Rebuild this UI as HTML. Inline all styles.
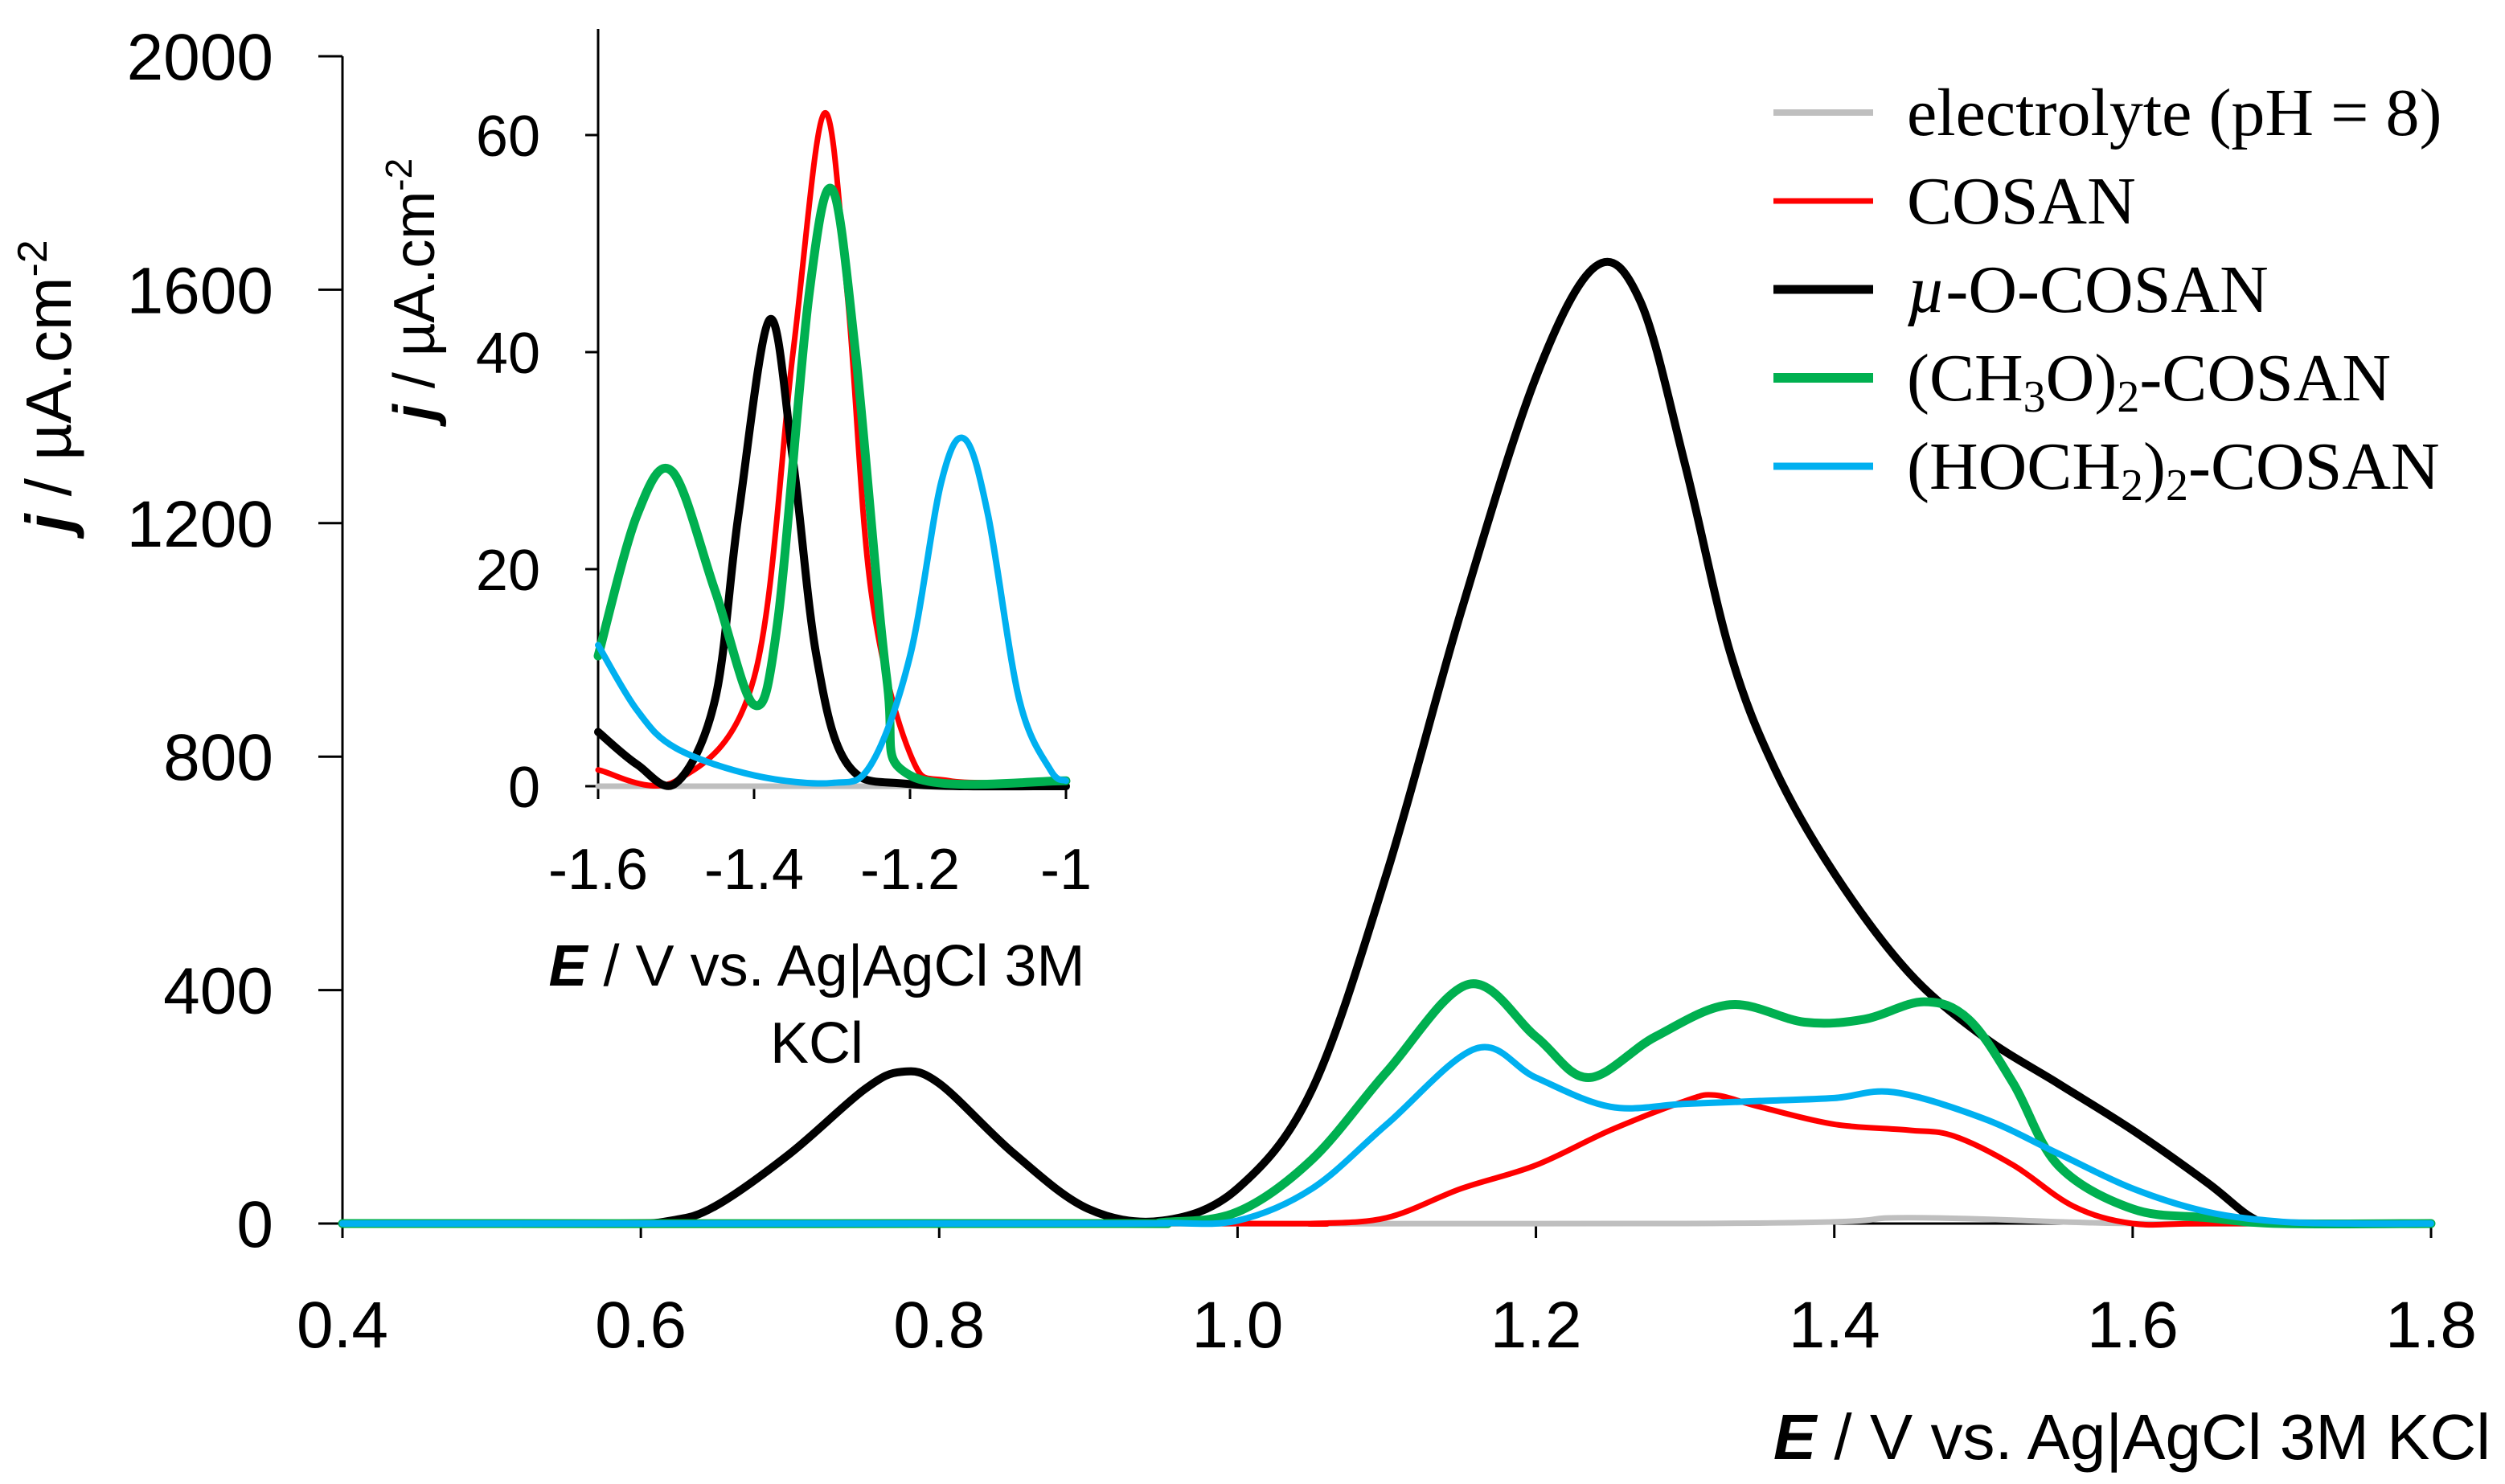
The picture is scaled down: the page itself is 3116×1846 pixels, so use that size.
<!DOCTYPE html>
<html><head><meta charset="utf-8"><style>
html,body{margin:0;padding:0;background:#fff;}
svg{display:block;}
.t{font-family:"Liberation Sans",sans-serif;fill:#000;}
.s{font-family:"Liberation Serif",serif;fill:#000;}
</style></head><body>
<svg id="c" width="3116" height="1846" viewBox="0 0 3116 1846" xmlns="http://www.w3.org/2000/svg">
<g id="main"></g>
<g id="inset"></g>
<g id="legend"></g>
</svg>
<script>
// ---- main chart data ----
const mainXTicks = [0.4,0.6,0.8,1.0,1.2,1.4,1.6,1.8];
const mainXTickLabels = ["0.4","0.6","0.8","1.0","1.2","1.4","1.6","1.8"];
const mainYTicks = [0,400,800,1200,1600,2000];
const mainYTickLabels = ["0","400","800","1200","1600","2000"];
const blackX = [0.4,0.58,0.62,0.65,0.7,0.75,0.775,0.8,0.85,0.9,0.95,1.0,1.05,1.1,1.15,1.2,1.24,1.27,1.3,1.33,1.36,1.4,1.45,1.5,1.55,1.6,1.65,1.68,1.7,1.8];
const blackY = [0,0,5,30,120,230,260,240,120,25,5,60,230,600,1050,1450,1640,1580,1300,980,780,600,430,320,240,160,70,10,0,0];
const greenX = [0.4,0.9,0.95,1.0,1.05,1.1,1.155,1.2,1.235,1.28,1.33,1.38,1.42,1.46,1.49,1.52,1.55,1.6,1.65,1.7,1.8];
const greenY = [0,0,2,20,110,260,410,320,250,320,375,345,350,380,350,240,100,25,10,0,0];
const cyanX = [0.4,0.9,0.95,1.0,1.05,1.1,1.16,1.2,1.25,1.3,1.35,1.4,1.44,1.5,1.55,1.6,1.65,1.7,1.75,1.8];
const cyanY = [0,0,1,5,60,170,300,250,200,205,210,215,225,180,120,60,20,3,0,0];
const redX = [0.4,1.0,1.05,1.1,1.15,1.2,1.25,1.3,1.32,1.35,1.4,1.45,1.48,1.52,1.56,1.6,1.65,1.8];
const redY = [0,0,0,10,60,100,160,210,220,200,170,160,150,100,30,0,0,0];
const grayX = [0.4,1.3,1.45,1.6,1.8];
const grayY = [0,0,10,0,0];
// ---- inset data ----
const inXTicks = [-1.6,-1.4,-1.2,-1.0];
const inXTickLabels = ["-1.6","-1.4","-1.2","-1"];
const inYTicks = [0,20,40,60];
const inYTickLabels = ["0","20","40","60"];
const inBlackX = [-1.6,-1.55,-1.5,-1.45,-1.42,-1.38,-1.35,-1.32,-1.28,-1.2,-1.0];
const inBlackY = [5,2,0.3,8,25,43,30,12,2,0.2,0];
const inRedX = [-1.6,-1.5,-1.4,-1.35,-1.31,-1.28,-1.25,-1.2,-1.15,-1.0];
const inRedY = [1.5,0.5,10,40,62,45,18,3,0.5,0.5];
const inGreenX = [-1.6,-1.55,-1.505,-1.45,-1.4,-1.37,-1.33,-1.3,-1.27,-1.23,-1.2,-1.0];
const inGreenY = [12,25,29,18,7.5,15,45,55,40,10,1,0.5];
const inCyanX = [-1.6,-1.55,-1.5,-1.4,-1.3,-1.25,-1.2,-1.16,-1.13,-1.1,-1.06,-1.02,-1.0];
const inCyanY = [13,7,3.5,1,0.3,2,12,28,32,25,8,1.5,0.5];
const inGrayX = [-1.6,-1.0];
const inGrayY = [0,0];

const NS="http://www.w3.org/2000/svg";
function mk(tag,attrs,parent){const e=document.createElementNS(NS,tag);for(const k in attrs)e.setAttribute(k,attrs[k]);parent.appendChild(e);return e;}
function smooth(pts){let d="M"+pts[0][0]+","+pts[0][1];for(let i=0;i<pts.length-1;i++){const p0=pts[Math.max(0,i-1)],p1=pts[i],p2=pts[i+1],p3=pts[Math.min(pts.length-1,i+2)];const c1=[p1[0]+(p2[0]-p0[0])/6,p1[1]+(p2[1]-p0[1])/6];const c2=[p2[0]-(p3[0]-p1[0])/6,p2[1]-(p3[1]-p1[1])/6];d+=" C"+c1[0]+","+c1[1]+" "+c2[0]+","+c2[1]+" "+p2[0]+","+p2[1];}return d;}

const mx=v=>426+(v-0.4)/1.4*2598;
const my=v=>1522-v/2000*1452;
const main=document.getElementById('main');
let e;
e=mk('line',{x1:426,y1:my(2000),x2:426,y2:1522,stroke:'#000','stroke-width':3},main);


e=mk('line',{x1:426,y1:1522,x2:3024,y2:1522,stroke:'#000','stroke-width':3},main);


mainYTicks.forEach((v,i)=>{mk('line',{x1:396,x2:426,y1:my(v),y2:my(v),stroke:'#000','stroke-width':3},main);
 e=mk('text',{x:340,y:my(v)+29,'text-anchor':'end','font-size':82,class:'t'},main);e.textContent=mainYTickLabels[i];
 
 });
mainXTicks.forEach((v,i)=>{mk('line',{x1:mx(v),x2:mx(v),y1:1522,y2:1540,stroke:'#000','stroke-width':3},main);
 e=mk('text',{x:mx(v),y:1676,'text-anchor':'middle','font-size':82,class:'t'},main);e.textContent=mainXTickLabels[i];
 
 });
e=mk('text',{x:3098,y:1815,'text-anchor':'end','font-size':80,class:'t'},main);
e.innerHTML='<tspan font-weight="bold" font-style="italic">E</tspan> / V vs. Ag|AgCl 3M KCl';


e=mk('text',{x:0,y:0,'text-anchor':'middle','font-size':80,class:'t',transform:'translate(88,480) rotate(-90)'},main);
e.innerHTML='<tspan font-weight="bold" font-style="italic">j</tspan> / µA.cm<tspan dy="-30" font-size="52">-2</tspan>';


function series(g,X,Y,fx,fy,color,w,name){const pts=X.map((x,i)=>[fx(x),fy(Y[i])]);const p=mk('path',{d:smooth(pts),fill:'none',stroke:color,'stroke-width':w,'stroke-linejoin':'round','stroke-linecap':'round'},g);
 
 }
series(main,grayX,grayY,mx,my,'#bfbfbf',7,'electrolyte-line');
series(main,redX,redY,mx,my,'#ff0000',7,'cosan-line');
series(main,blackX,blackY,mx,my,'#000000',10,'mu-o-cosan-line');
series(main,greenX,greenY,mx,my,'#00b050',11,'ch3o-cosan-line');
series(main,cyanX,cyanY,mx,my,'#00b0f0',8,'hoch2-cosan-line');

const ix=v=>744+(v+1.6)/0.6*582;
const iy=v=>978-v*13.5;
const ins=document.getElementById('inset');
e=mk('line',{x1:744,y1:36,x2:744,y2:978,stroke:'#000','stroke-width':3},ins);


e=mk('line',{x1:744,y1:978,x2:1326,y2:978,stroke:'#000','stroke-width':3},ins);


inYTicks.forEach((v,i)=>{mk('line',{x1:728,x2:744,y1:iy(v),y2:iy(v),stroke:'#000','stroke-width':3},ins);
 e=mk('text',{x:672,y:iy(v)+26,'text-anchor':'end','font-size':72,class:'t'},ins);e.textContent=inYTickLabels[i];
 
 });
inXTicks.forEach((v,i)=>{mk('line',{x1:ix(v),x2:ix(v),y1:978,y2:994,stroke:'#000','stroke-width':3},ins);
 e=mk('text',{x:ix(v),y:1106,'text-anchor':'middle','font-size':72,class:'t'},ins);e.textContent=inXTickLabels[i];
 
 });
e=mk('text',{x:1016,y:1226,'text-anchor':'middle','font-size':72,class:'t'},ins);
e.innerHTML='<tspan font-weight="bold" font-style="italic">E</tspan> / V vs. Ag|AgCl 3M';


e=mk('text',{x:1016,y:1322,'text-anchor':'middle','font-size':72,class:'t'},ins);e.textContent='KCl';


e=mk('text',{x:0,y:0,'text-anchor':'middle','font-size':72,class:'t',transform:'translate(540,360) rotate(-90)'},ins);
e.innerHTML='<tspan font-weight="bold" font-style="italic">j</tspan> / µA.cm<tspan dy="-28" font-size="46">-2</tspan>';


series(ins,inGrayX,inGrayY,ix,iy,'#bfbfbf',7,'inset-electrolyte-line');
series(ins,inRedX,inRedY,ix,iy,'#ff0000',7,'inset-cosan-line');
series(ins,inBlackX,inBlackY,ix,iy,'#000000',10,'inset-mu-o-cosan-line');
series(ins,inGreenX,inGreenY,ix,iy,'#00b050',11,'inset-ch3o-cosan-line');
series(ins,inCyanX,inCyanY,ix,iy,'#00b0f0',8,'inset-hoch2-cosan-line');

const legColors=['#bfbfbf','#ff0000','#000000','#00b050','#00b0f0'];
const legWidths=[8,7,11,12,9];
const legLabels=['electrolyte (pH = 8)','COSAN','<tspan font-style="italic">µ</tspan>-O-COSAN','(CH<tspan dy="14" font-size="56">3</tspan><tspan dy="-14">O)</tspan><tspan dy="14" font-size="56">2</tspan><tspan dy="-14">-COSAN</tspan>','(HOCH<tspan dy="14" font-size="56">2</tspan><tspan dy="-14">)</tspan><tspan dy="14" font-size="56">2</tspan><tspan dy="-14">-COSAN</tspan>'];
const leg=document.getElementById('legend');
legColors.forEach((c,i)=>{const y=140+i*110;
 const g=mk('g',{},leg);
 
 
 mk('line',{x1:2206,x2:2330,y1:y,y2:y,stroke:c,'stroke-width':legWidths[i]},g);
 const t=mk('text',{x:2372,y:y+28,'font-size':84,class:'s'},g);t.innerHTML=legLabels[i];});
</script>
</body></html>
